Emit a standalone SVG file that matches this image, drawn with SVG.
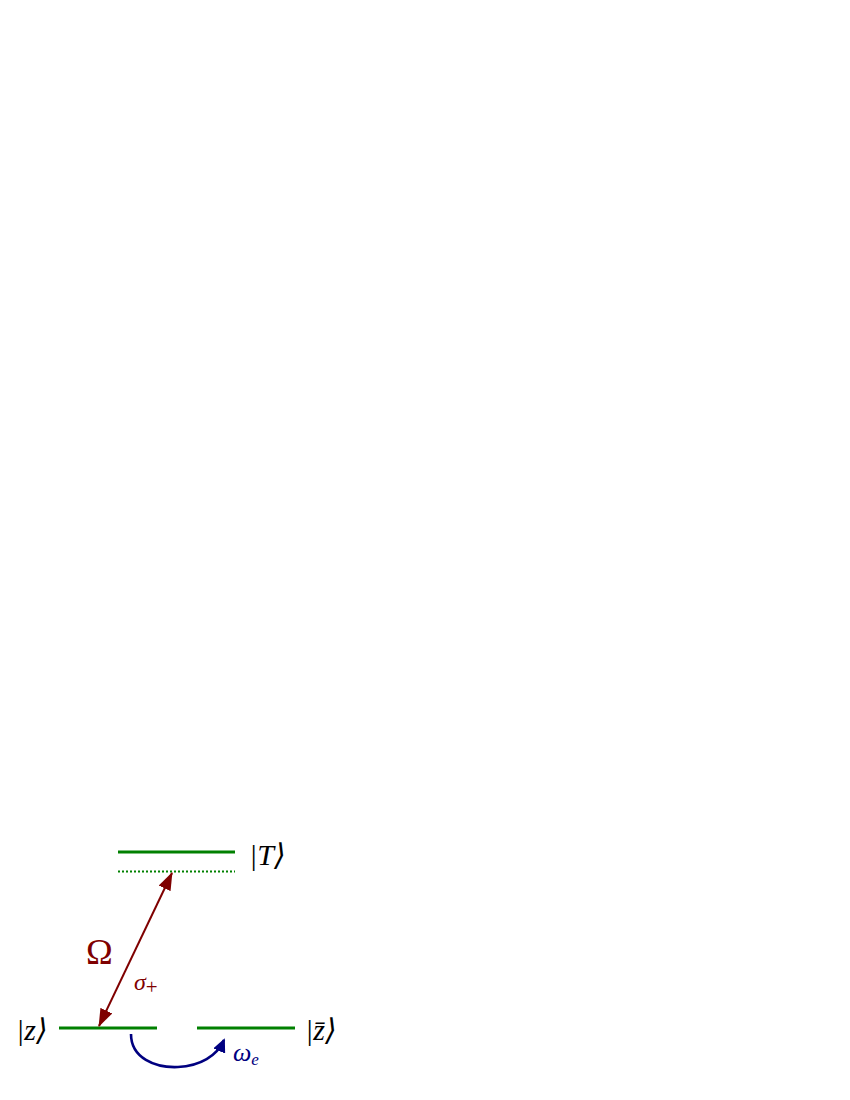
<svg xmlns="http://www.w3.org/2000/svg" width="850" height="1100" viewBox="0 0 850 1100">
<style>
.lvl{stroke:#008000;stroke-width:3.2;fill:none}
.dot{stroke:#008000;stroke-width:1.8;stroke-dasharray:2,2;fill:none}
.m{font-family:"Liberation Serif","DejaVu Serif",serif;fill:#000}
.r{fill:#7f0000}
</style>
<defs>
<marker id="ar" viewBox="0 0 18 13" refX="17" refY="6.5" markerWidth="18" markerHeight="13" markerUnits="userSpaceOnUse" orient="auto-start-reverse">
<path d="M0,0 L18,6.5 L0,13 Z" fill="#7f0000"/>
</marker>
<marker id="ab" viewBox="0 0 14 13" refX="12" refY="6.5" markerWidth="14" markerHeight="13" markerUnits="userSpaceOnUse" orient="auto">
<path d="M0,0 L14,6.5 L0,13 Z" fill="#000080"/>
</marker>
</defs>
<g id="levelT"><line class="lvl" x1="118" y1="852" x2="235" y2="852"/><line class="dot" x1="118" y1="871.5" x2="235" y2="871.5"/><text class="m" x="249" y="865" font-size="30" font-style="italic">|T⟩</text></g>
<g id="levelZ"><line class="lvl" x1="59" y1="1028" x2="157" y2="1028"/><text class="m" x="16" y="1040" font-size="30" font-style="italic">|z⟩</text></g>
<g id="levelZbar"><line class="lvl" x1="197" y1="1028" x2="295" y2="1028"/><text class="m" x="305" y="1040" font-size="30" font-style="italic">|z̄⟩</text></g>
<g id="connectors">
<line x1="172" y1="873" x2="99" y2="1026" stroke="#7f0000" stroke-width="2" marker-start="url(#ar)" marker-end="url(#ar)"/>
<path d="M131,1034 C131,1058 155,1068 178,1067 C200,1066 217,1056 224,1040" fill="none" stroke="#000080" stroke-width="2.6" marker-end="url(#ab)"/>
</g>
<g id="labels">
<text class="m r" x="86" y="964" font-size="36">Ω</text>
<text class="m r" x="134" y="990" font-size="24" font-style="italic">σ<tspan font-size="21" font-style="normal" dy="4">+</tspan></text>
<text class="m" x="233" y="1061" font-size="26" font-style="italic" style="fill:#000080">ω<tspan font-size="17" dy="4">e</tspan></text>
</g>
</svg>
